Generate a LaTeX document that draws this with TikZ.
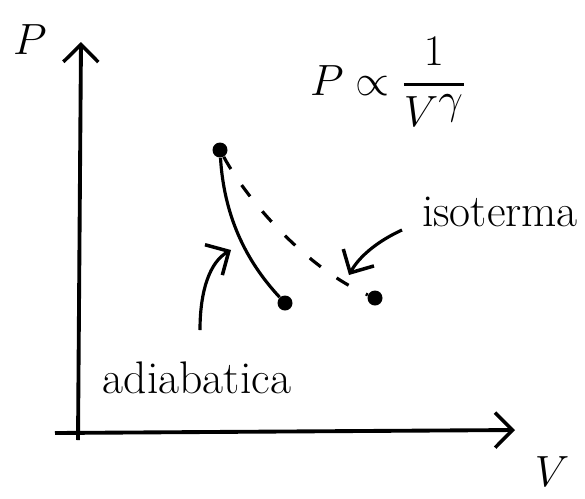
\documentclass[tikz,border=0pt]{standalone}
\usepackage{amsmath,amssymb}
\usepackage{tikz}
\usetikzlibrary{arrows.meta}

\begin{document}
\begin{tikzpicture}[x=0.02cm, y=-0.02cm, >={Straight Barb[length=3.5mm,width=7mm,line width=2pt]},
axis/.style={line width=2.2pt},
curve/.style={line width=1.8pt},
pointdot/.style={circle, fill, inner sep=0pt, minimum size=3mm},
lbl/.style={font=\fontsize{26}{30}\selectfont, inner sep=1pt}]
\useasboundingbox (0,0) rectangle (585,498);
% axes
\coordinate (o1) at (78,440); \coordinate (ptop) at (81,42);
\coordinate (o2) at (55,433); \coordinate (vend) at (515,430);
\draw[axis,->] (o1) -- (ptop); \draw[axis,->] (o2) -- (vend);
\node[lbl, font=\fontsize{40}{40}\selectfont] (plabel) at (30,40) {$P$};
\node[lbl, font=\fontsize{40}{40}\selectfont] (vlabel) at (552,472) {$V$};
\node[lbl, font=\fontsize{40}{46}\selectfont] (law) at (388,82) {$P \propto \dfrac{1}{V^{\gamma}}$};
% states
\node[pointdot] (a) at (220,150) {};
\node[pointdot] (b) at (285,303) {};
\node[pointdot] (c) at (375,298) {};
\draw[curve] (a) .. controls (224,215) and (245,260) .. (b);
\draw[curve, dashed, dash pattern=on 8pt off 11pt] (a) .. controls (250,205) and (310,270) .. (c);
% labels
\node[lbl] (adiab) at (197,378) {adiabatica};
\node[lbl] (isot) at (500,212) {isoterma};
\coordinate (adiabtip) at (231,250); \coordinate (isottip) at (349,275);
\draw[curve,->] (200,330) .. controls (200,290) and (210,262) .. (adiabtip);
\draw[curve,->] (402,230) .. controls (380,240) and (360,255) .. (isottip);
\end{tikzpicture}
\end{document}
